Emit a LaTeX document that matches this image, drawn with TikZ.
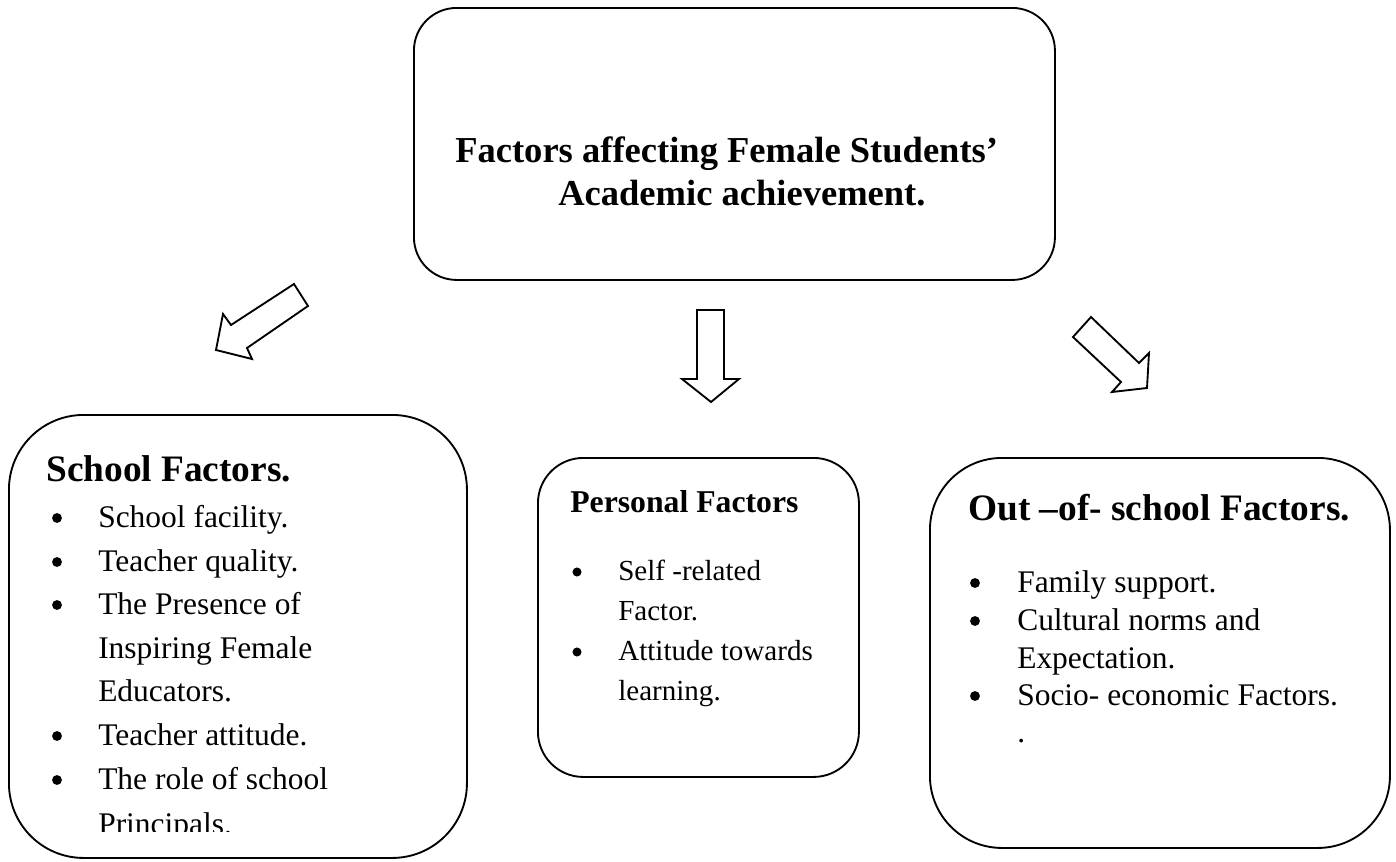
\documentclass[tikz,border=0pt]{standalone}
\usepackage{fontspec}
\setmainfont{Liberation Serif}
\begin{document}
\begin{tikzpicture}[x=0.75pt,y=-0.75pt,
  box/.style={draw, line width=1.4pt, anchor=north west, inner sep=0pt},
  blockarrow/.style={draw, line width=1.4pt, line join=miter},
  txt/.style={anchor=base west, inner sep=0pt},
  bul/.style={circle, fill=black, inner sep=0pt, minimum size=7.4pt},
  sbul/.style={circle, fill=black, inner sep=0pt, minimum size=6.8pt},
  titlefont/.style={font=\fontsize{27.4}{33}\selectfont\bfseries},
  headfont/.style={font=\fontsize{28}{33}\selectfont\bfseries},
  bodyfont/.style={font=\fontsize{23.6}{28}\selectfont},
  midhead/.style={font=\fontsize{23.8}{28}\selectfont\bfseries},
  midbody/.style={font=\fontsize{21.8}{26}\selectfont}]
\useasboundingbox (0,0) rectangle (1396,861);

% boxes
\node[box, rounded corners=32pt, minimum width=480.75pt, minimum height=204pt] (top) at (413,7) {};
\node[box, rounded corners=56pt, minimum width=343.5pt, minimum height=332.25pt] (school) at (8,414) {};
\node[box, rounded corners=34pt, minimum width=240.75pt, minimum height=239.25pt] (personal) at (537,457) {};
\node[box, rounded corners=54pt, minimum width=345pt, minimum height=292.5pt] (out) at (929,457) {};

% title
\node[txt, titlefont] (t1) at (455,162) {Factors affecting Female Students’};
\node[txt, titlefont] (t2) at (558,205) {Academic achievement.};

% block arrows
\draw[blockarrow] (216,350) -- (223,314) -- (231,325) -- (294,284) -- (308,306) -- (247,348) -- (252,359) -- cycle;
\draw[blockarrow] (697,310) -- (724,310) -- (724,379) -- (739,379) -- (711,402) -- (682,379) -- (697,379) -- cycle;
\draw[blockarrow] (1091,317) -- (1073,337) -- (1121,382) -- (1112,392) -- (1147,388) -- (1149,353) -- (1139,363) -- cycle;

% school factors
\node[txt, headfont] (sh) at (46,481) {School Factors.};
\node[bul] (sb1) at (57,518) {};
\node[txt, bodyfont] (s1) at (98,527) {School facility.};
\node[bul] (sb2) at (57,562) {};
\node[txt, bodyfont] (s2) at (98,571) {Teacher quality.};
\node[bul] (sb3) at (57,605) {};
\node[txt, bodyfont] (s3) at (98,614) {The Presence of};
\node[txt, bodyfont] (s3b) at (98,658) {Inspiring Female};
\node[txt, bodyfont] (s3c) at (98,701) {Educators.};
\node[bul] (sb4) at (57,736) {};
\node[txt, bodyfont] (s4) at (98,745) {Teacher attitude.};
\node[bul] (sb5) at (57,780) {};
\node[txt, bodyfont] (s5) at (98,789) {The role of school};
\begin{scope}
\clip (0,800) rectangle (1396,831);
\node[txt, bodyfont] (s5b) at (98,834) {Principals.};
\end{scope}

% personal factors
\node[txt, midhead] (ph) at (570,512) {Personal Factors};
\node[sbul] (pb1) at (577,572) {};
\node[txt, midbody] (p1) at (618,580) {Self -related};
\node[txt, midbody] (p1b) at (618,620) {Factor.};
\node[sbul] (pb2) at (577,652) {};
\node[txt, midbody] (p2) at (618,660) {Attitude towards};
\node[txt, midbody] (p2b) at (618,700) {learning.};

% out-of-school factors
\node[txt, headfont] (oh) at (968,520) {Out –of- school Factors.};
\node[bul] (ob1) at (975,583) {};
\node[txt, bodyfont] (o1) at (1017,592) {Family support.};
\node[bul] (ob2) at (975,621) {};
\node[txt, bodyfont] (o2) at (1017,630) {Cultural norms and};
\node[txt, bodyfont] (o2b) at (1017,668) {Expectation.};
\node[bul] (ob3) at (975,696) {};
\node[txt, bodyfont] (o3) at (1017,705) {Socio- economic Factors.};
\node[txt, bodyfont] (o3b) at (1017,742) {.};
\end{tikzpicture}
\end{document}
